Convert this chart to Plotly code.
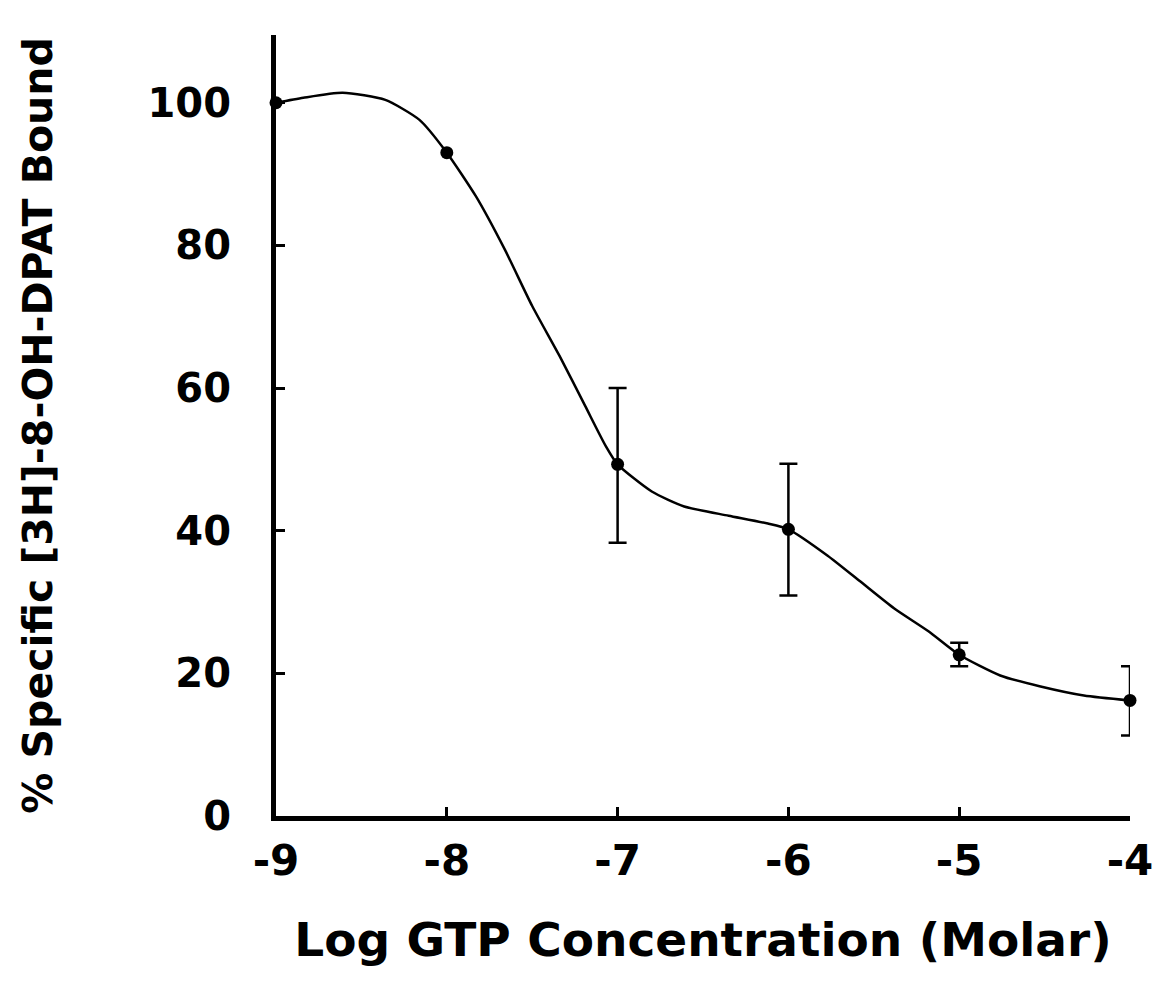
import plotly.graph_objects as go

# Measured data points
log_gtp = [-9, -8, -7, -6, -5, -4]
pct_bound = [100, 93, 49.3, 40.2, 22.6, 16.2]
err_plus = [None, None, 10.7, 9.2, 1.7, 4.8]
err_minus = [None, None, 11.0, 9.3, 1.6, 4.9]

# Fitted curve
curve_x = [-9, -8.84, -8.61, -8.36, -8.16, -8, -7.83, -7.66, -7.5, -7.34, -7.19,
           -7.07, -7, -6.8, -6.61, -6.35, -6.12, -6, -5.77, -5.58, -5.38, -5.18,
           -5, -4.76, -4.53, -4.27, -4]
curve_y = [100, 100.7, 101.4, 100.4, 97.6, 93, 86.9, 79.4, 71.5, 64.5, 57.5,
           51.9, 49.3, 45.5, 43.4, 42.1, 41.0, 40.2, 36.5, 32.9, 29.1, 25.9,
           22.6, 19.7, 18.2, 16.9, 16.2]

x_ticks = [-9, -8, -7, -6, -5, -4]
y_ticks = [0, 20, 40, 60, 80, 100]

FONT = "DejaVu Sans"

# points that carry error bars
eb_idx = [i for i, e in enumerate(err_plus) if e is not None]

fig = go.Figure()
fig.add_trace(go.Scatter(
    x=curve_x, y=curve_y, mode="lines",
    line=dict(color="black", width=2.5, shape="spline", smoothing=0.6),
    hoverinfo="skip", showlegend=False, cliponaxis=False,
))
fig.add_trace(go.Scatter(
    x=[log_gtp[i] for i in eb_idx], y=[pct_bound[i] for i in eb_idx],
    mode="markers", marker=dict(color="black", size=1, opacity=0),
    error_y=dict(type="data", symmetric=False,
                 array=[err_plus[i] for i in eb_idx],
                 arrayminus=[err_minus[i] for i in eb_idx],
                 color="black", thickness=2.5, width=9),
    hoverinfo="skip", showlegend=False, cliponaxis=False,
))
fig.add_trace(go.Scatter(
    x=log_gtp, y=pct_bound, mode="markers",
    marker=dict(color="black", size=13),
    showlegend=False, cliponaxis=False,
))

fig.update_layout(
    width=1162, height=982,
    margin=dict(l=268, r=40, t=27, b=174),
    paper_bgcolor="white", plot_bgcolor="white",
    font=dict(family=FONT, color="black"),
)
fig.update_xaxes(
    range=[-9, -4], tickvals=x_ticks, ticktext=[str(v) for v in x_ticks],
    showgrid=False, zeroline=False,
    showline=True, linecolor="black", linewidth=5,
    ticks="inside", ticklen=9, tickwidth=3, tickcolor="black",
    tickfont=dict(family=FONT, size=42, weight="bold", color="black"),
    ticklabelstandoff=4,
    title=dict(text="Log GTP Concentration (Molar)",
               font=dict(family=FONT, size=47, weight="bold", color="black"),
               standoff=40),
)
fig.update_yaxes(
    range=[0, 109.5], tickvals=y_ticks, ticktext=[str(v) for v in y_ticks],
    showgrid=False, zeroline=False,
    showline=True, linecolor="black", linewidth=5,
    ticks="inside", ticklen=9, tickwidth=3, tickcolor="black",
    tickfont=dict(family=FONT, size=40, weight="bold", color="black"),
    ticklabelstandoff=32,
    title=dict(text="% Specific [3H]-8-OH-DPAT Bound",
               font=dict(family=FONT, size=41, weight="bold", color="black"),
               standoff=84),
)

fig.write_html("out.html")
